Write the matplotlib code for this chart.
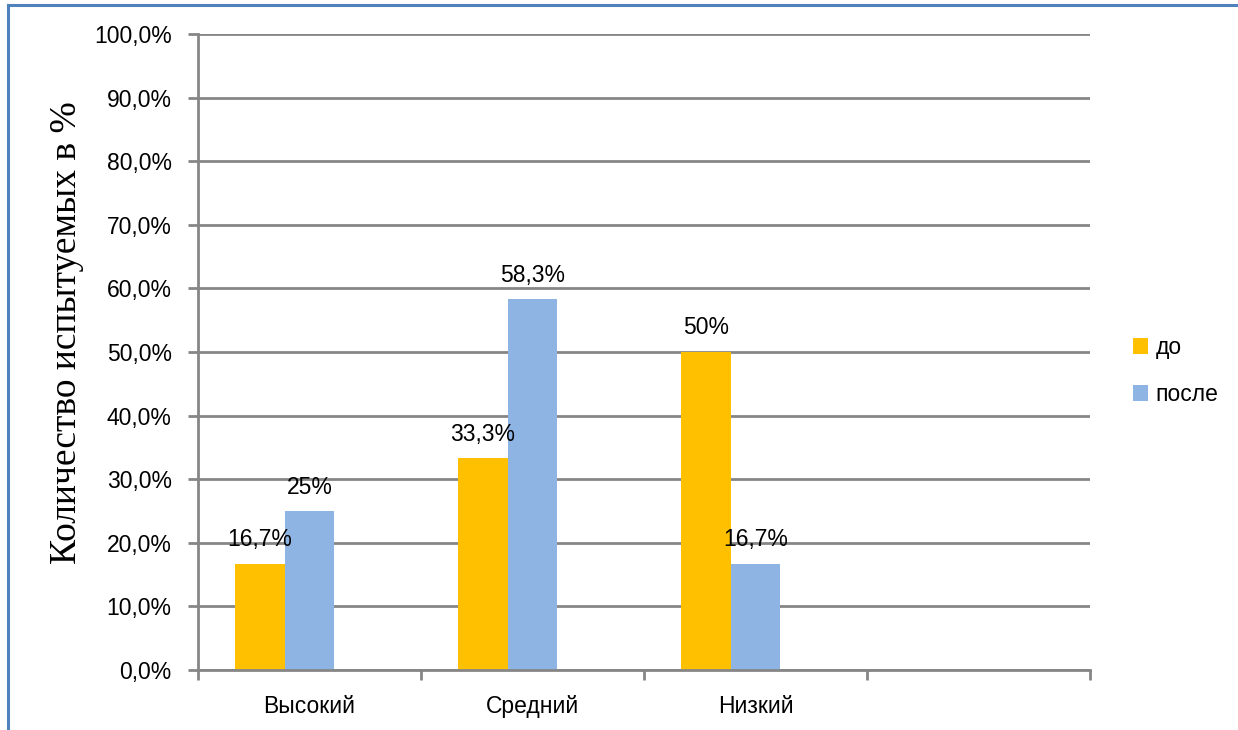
import matplotlib.pyplot as plt
from matplotlib.lines import Line2D
import numpy as np

categories = ["Высокий", "Средний", "Низкий", ""]
before = [16.7, 33.3, 50.0, np.nan]
after = [25.0, 58.3, 16.7, np.nan]
before_labels = ["16,7%", "33,3%", "50%", ""]
after_labels = ["25%", "58,3%", "16,7%", ""]
series_names = ["до", "после"]
y_ticks = [0, 10, 20, 30, 40, 50, 60, 70, 80, 90, 100]

plt.rcParams['font.family'] = ['Liberation Sans', 'DejaVu Sans']
grey = "#868686"
fs = 16.5

fig = plt.figure(figsize=(12.38, 7.30), dpi=100)
ax = fig.add_axes([198 / 1238, 1 - 670 / 730, (1090 - 198) / 1238, (670 - 34) / 730])

x = np.arange(len(categories))
w = 1 / 4.5
ax.bar(x - w, before, w, color="#FFC000", label=series_names[0])
ax.bar(x, after, w, color="#8EB4E3", label=series_names[1])

for xi, v, s in zip(x - w, before, before_labels):
    if s:
        ax.annotate(s, (xi, v), xytext=(0, 9), textcoords="offset points",
                    ha="center", va="bottom", fontsize=fs)
for xi, v, s in zip(x, after, after_labels):
    if s:
        ax.annotate(s, (xi, v), xytext=(0, 9), textcoords="offset points",
                    ha="center", va="bottom", fontsize=fs)

ax.set_xlim(-0.5, len(categories) - 0.5)
ax.set_ylim(0, 100)
ax.set_yticks(y_ticks)
ax.set_yticklabels([f"{t:.1f}%".replace(".", ",") for t in y_ticks], fontsize=fs)
ax.yaxis.grid(True, color=grey, linewidth=2)
ax.set_axisbelow(True)

ax.set_xticks(np.arange(len(categories) + 1) - 0.5)
ax.set_xticklabels([])
ax.set_xticks(x, minor=True)
ax.set_xticklabels(categories, minor=True, fontsize=fs)
ax.tick_params(axis="x", which="minor", length=0, pad=18)
ax.tick_params(axis="x", which="major", length=7, width=2, color=grey)
ax.tick_params(axis="y", length=7, width=2, color=grey, pad=12)

for sp in ["top", "right"]:
    ax.spines[sp].set_visible(False)
for sp in ["left", "bottom"]:
    ax.spines[sp].set_color(grey)
    ax.spines[sp].set_linewidth(2)

ax.set_ylabel("Количество испытуемых в %", family=["Liberation Serif", "DejaVu Serif"],
              fontsize=27)
ax.yaxis.set_label_coords(-0.128, 0.531)

ax.legend(loc="center left", bbox_to_anchor=(1.025, 0.47), frameon=False, fontsize=fs,
          handlelength=0.65, handleheight=0.65, handletextpad=0.35, labelspacing=1.05)

fx = 8 / 1238
fy = 1 - 5 / 730
fig.add_artist(Line2D([fx, 1], [fy, fy], color="#4F81BD", linewidth=2.2))
fig.add_artist(Line2D([fx, fx], [0, fy], color="#4F81BD", linewidth=2.2))

fig.savefig("out.png", dpi=100)
